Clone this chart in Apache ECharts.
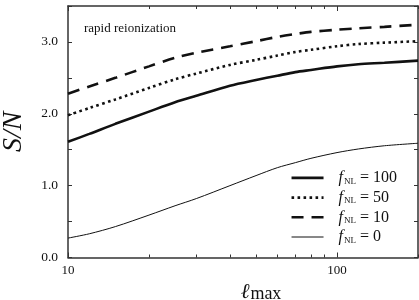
<!DOCTYPE html>
<html><head><meta charset="utf-8">
<script src="https://cdn.jsdelivr.net/npm/echarts@6/dist/echarts.min.js"></script>
<style>html,body{margin:0;padding:0;background:#fff}#c{width:419px;height:300px}</style>
</head><body><div id="c"></div>
<script>
var ell = [10, 12, 15, 20, 25, 30, 40, 50, 60, 70, 80, 100, 120, 150, 200];
var sn100 = [1.61, 1.72, 1.86, 2.03, 2.16, 2.25, 2.39, 2.47, 2.53, 2.58, 2.61, 2.66, 2.69, 2.71, 2.74];
var sn50  = [1.98, 2.08, 2.20, 2.36, 2.48, 2.56, 2.68, 2.75, 2.81, 2.86, 2.89, 2.94, 2.97, 2.99, 3.01];
var sn10  = [2.28, 2.38, 2.50, 2.66, 2.78, 2.85, 2.94, 3.01, 3.07, 3.11, 3.14, 3.17, 3.19, 3.21, 3.24];
var sn0   = [0.27, 0.33, 0.43, 0.59, 0.72, 0.82, 1.00, 1.14, 1.25, 1.32, 1.38, 1.46, 1.51, 1.555, 1.59];
var xMajorTicks = [10, 100];
var xMinorTicks = [20, 30, 40, 50, 60, 70, 80, 90, 200];
var legendLabels = {f100: '100', f50: '50', f10: '10', f0: '0'};

var SERIF = '"Liberation Serif", "DejaVu Serif", serif';
var INK = '#111';
var AX = '#333';
function pairs(ys){ return ell.map(function(x,i){ return [x, ys[i]]; }); }

function xAx(pos, ticks, len, labels, line){
  return {
    type: 'log', logBase: 10, min: 10, max: 200, position: pos,
    axisLine: {show: line, lineStyle: {color: AX, width: 1.5}},
    axisTick: {show: true, inside: true, length: len, customValues: ticks, lineStyle: {color: AX, width: 1}},
    axisLabel: labels ? {show: true, customValues: xMajorTicks, margin: 7, color: INK, fontFamily: SERIF, fontSize: 13} : {show: false},
    splitLine: {show: false}, minorTick: {show: false}, minorSplitLine: {show: false}
  };
}

var styles = {
  f100: {color: INK, width: 2.6, type: 'solid'},
  f50: {color: INK, width: 2.6, type: [2.6, 3.4], cap: 'butt'},
  f10: {color: INK, width: 2.6, type: [12, 8], cap: 'butt'},
  f0: {color: INK, width: 1, type: 'solid'}
};

var chart = echarts.init(document.getElementById('c'), null, {renderer: 'canvas'});
var lineBase = {type: 'line', xAxisIndex: 0, yAxisIndex: 0, showSymbol: false, symbol: 'none', smooth: 0.3, animation: false};
chart.setOption({
  animation: false,
  grid: {left: 68, right: 1, top: 6, bottom: 42.5, containLabel: false, outerBoundsMode: 'none'},
  title: {text: 'rapid reionization', left: 79, top: 17, textStyle: {fontFamily: SERIF, fontSize: 13, fontWeight: 'normal', color: INK}},
  legend: {
    orient: 'vertical', right: 17, bottom: 50, itemWidth: 32, itemHeight: 14, itemGap: 3.7,
    itemStyle: {opacity: 0, borderWidth: 0},
    data: ['f100', 'f50', 'f10', 'f0'].map(function(n){ return {name: n, lineStyle: styles[n]}; }),
    formatter: function(n){ return '{i|f}{s|NL}{t| = ' + legendLabels[n] + '}'; },
    textStyle: {
      color: INK, fontFamily: SERIF, padding: [0,0,0,10],
      rich: {
        i: {fontFamily: SERIF, fontStyle: 'italic', fontSize: 16, color: INK, lineHeight: 16, verticalAlign: 'middle'},
        s: {fontFamily: SERIF, fontSize: 9, color: INK, lineHeight: 16, verticalAlign: 'bottom', padding: [5,0,0,1]},
        t: {fontFamily: SERIF, fontSize: 16, color: INK, lineHeight: 16, verticalAlign: 'middle'}
      }
    }
  },
  xAxis: [
    Object.assign(xAx('bottom', xMajorTicks, 5, true, true), {
      name: '{l|ℓ}{m|max}', nameLocation: 'middle', nameGap: 17,
      nameTextStyle: {rich: {
        l: {fontFamily: '"DejaVu Serif", serif', fontStyle: 'italic', fontSize: 21, color: INK, verticalAlign: 'bottom', padding: [0,0,0,36]},
        m: {fontFamily: SERIF, fontSize: 18, color: INK, verticalAlign: 'bottom', padding: [7,0,0,1]}
      }}
    }),
    xAx('bottom', xMinorTicks, 3, false, false),
    xAx('top', xMajorTicks, 5, false, true),
    xAx('top', xMinorTicks, 3, false, false)
  ],
  yAxis: [
    {type: 'value', min: 0, max: 3.5, interval: 0.5, position: 'left',
     name: 'S/N', nameLocation: 'middle', nameGap: 40, nameRotate: 90,
     nameTextStyle: {fontFamily: SERIF, fontStyle: 'italic', fontSize: 28, color: INK},
     axisLine: {show: true, lineStyle: {color: AX, width: 1.5}},
     axisTick: {show: true, inside: true, length: 4, lineStyle: {color: AX}},
     axisLabel: {color: INK, fontFamily: SERIF, fontSize: 13.5, margin: 10,
       formatter: function(v){ return Math.abs(v - Math.round(v)) < 1e-9 ? v.toFixed(1) : ''; }},
     splitLine: {show: false}},
    {type: 'value', min: 0, max: 3.5, interval: 0.5, position: 'right',
     axisLine: {show: true, lineStyle: {color: AX, width: 1.5}},
     axisTick: {show: true, inside: true, length: 4, lineStyle: {color: AX}},
     axisLabel: {show: false}, splitLine: {show: false}}
  ],
  series: [
    Object.assign({}, lineBase, {name: 'f100', data: pairs(sn100), lineStyle: styles.f100, itemStyle: {color: INK}}),
    Object.assign({}, lineBase, {name: 'f50', data: pairs(sn50), lineStyle: styles.f50, itemStyle: {color: INK}}),
    Object.assign({}, lineBase, {name: 'f10', data: pairs(sn10), lineStyle: styles.f10, itemStyle: {color: INK}}),
    Object.assign({}, lineBase, {name: 'f0', data: pairs(sn0), lineStyle: styles.f0, itemStyle: {color: INK}})
  ]
});
</script></body></html>
